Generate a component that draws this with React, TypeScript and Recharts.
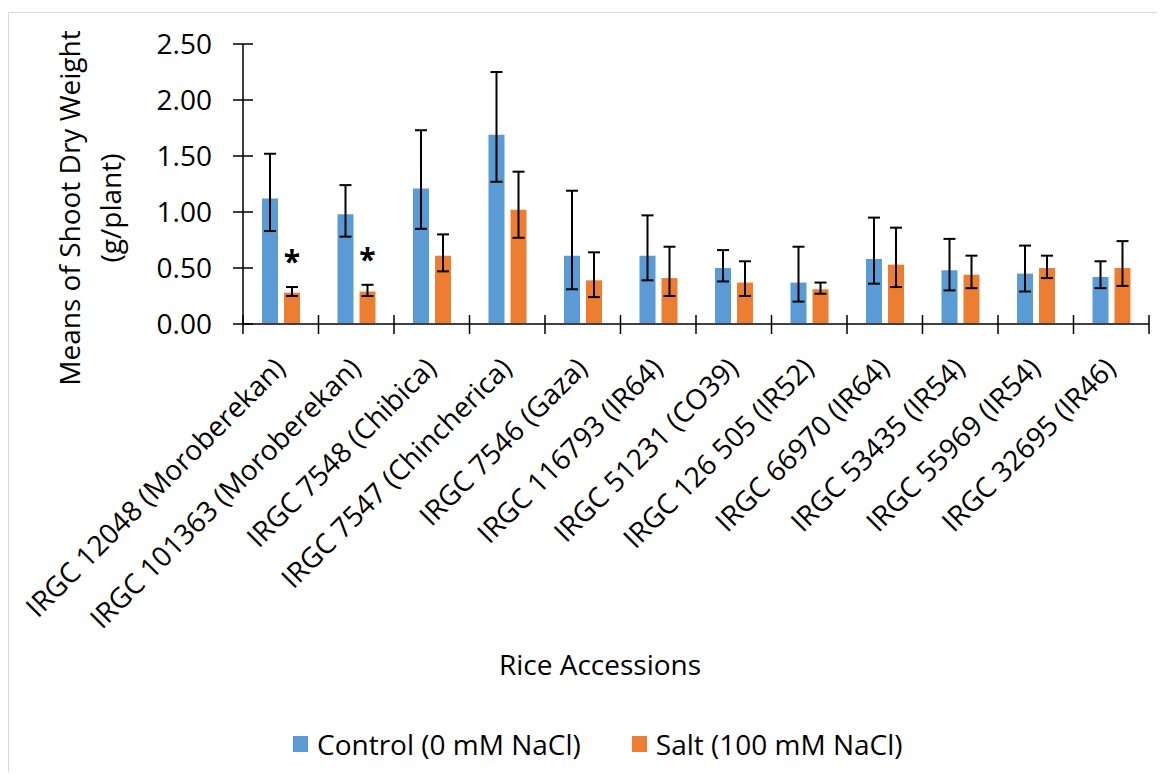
import React from 'react';
import { BarChart, Bar, XAxis, YAxis, ErrorBar, Legend, LabelList } from 'recharts';

const categories = [
  'IRGC 12048 (Moroberekan)',
  'IRGC 101363 (Moroberekan)',
  'IRGC 7548 (Chibica)',
  'IRGC 7547 (Chincherica)',
  'IRGC 7546 (Gaza)',
  'IRGC 116793 (IR64)',
  'IRGC 51231 (CO39)',
  'IRGC 126 505 (IR52)',
  'IRGC 66970 (IR64)',
  'IRGC 53435 (IR54)',
  'IRGC 55969 (IR54)',
  'IRGC 32695 (IR46)',
];

const controlValues = [1.12, 0.98, 1.21, 1.69, 0.61, 0.61, 0.5, 0.37, 0.58, 0.48, 0.45, 0.42];
const controlErrLow = [0.29, 0.2, 0.36, 0.42, 0.3, 0.22, 0.12, 0.17, 0.22, 0.18, 0.16, 0.1];
const controlErrHigh = [0.4, 0.26, 0.52, 0.56, 0.58, 0.36, 0.16, 0.32, 0.37, 0.28, 0.25, 0.14];

const saltValues = [0.28, 0.29, 0.61, 1.02, 0.39, 0.41, 0.37, 0.31, 0.53, 0.44, 0.5, 0.5];
const saltErrLow = [0.03, 0.04, 0.14, 0.25, 0.15, 0.16, 0.12, 0.04, 0.2, 0.12, 0.09, 0.16];
const saltErrHigh = [0.05, 0.06, 0.19, 0.34, 0.25, 0.28, 0.19, 0.06, 0.33, 0.17, 0.11, 0.24];

const significance = ['*', '*', '', '', '', '', '', '', '', '', '', ''];

const yTicks = [0, 0.5, 1, 1.5, 2, 2.5];
const seriesNames = ['Control (0 mM NaCl)', 'Salt (100 mM NaCl)'];
const seriesColors = ['#5B9BD5', '#ED7D31'];
const yTitleLines = ['Means of Shoot Dry Weight', '(g/plant)'];
const xTitle = 'Rice Accessions';

const data = categories.map((name, i) => ({
  name,
  control: controlValues[i],
  controlErr: [controlErrLow[i], controlErrHigh[i]],
  salt: saltValues[i],
  saltErr: [saltErrLow[i], saltErrHigh[i]],
  sig: significance[i],
}));

const FONT = "'Open Sans', sans-serif";
const CHART_W = 1149;
const CHART_H = 764;
const MARGIN = { top: 36, right: 8, left: 0, bottom: 0 };
const Y_AXIS_W = 235;
const PLOT_H = 280;
const X_AXIS_H = CHART_H - MARGIN.top - PLOT_H;
const BAND = (CHART_W - Y_AXIS_W - MARGIN.right) / categories.length;

const YTick = (props: any) => {
  const { x, y, payload } = props;
  return (
    <g>
      <line x1={x - 10} x2={x + 10} y1={y} y2={y} stroke="#000" strokeWidth={1.5} />
      <text x={x - 31} y={y} dy="0.36em" textAnchor="end" fontSize={28} fontFamily={FONT} fill="#000">
        {Number(payload.value).toFixed(2)}
      </text>
    </g>
  );
};

const XTick = (props: any) => {
  const { x, y, payload, index } = props;
  const half = BAND / 2;
  const tx = x + 6;
  const ty = y + 46;
  return (
    <g>
      <line x1={x - half} x2={x - half} y1={y - 9} y2={y + 10} stroke="#000" strokeWidth={1.5} />
      {index === categories.length - 1 && (
        <line x1={x + half} x2={x + half} y1={y - 9} y2={y + 10} stroke="#000" strokeWidth={1.5} />
      )}
      <text
        x={tx}
        y={ty}
        transform={`rotate(-45, ${tx}, ${ty})`}
        textAnchor="end"
        fontSize={28}
        fontFamily={FONT}
        fill="#000"
      >
        {payload.value}
      </text>
    </g>
  );
};

const YTitle = () => (
  <g>
    <text
      x={72}
      y={200}
      transform="rotate(-90, 72, 200)"
      textAnchor="middle"
      fontSize={28}
      fontFamily={FONT}
      fill="#000"
    >
      {yTitleLines[0]}
    </text>
    <text
      x={113}
      y={200}
      transform="rotate(-90, 113, 200)"
      textAnchor="middle"
      fontSize={28}
      fontFamily={FONT}
      fill="#000"
    >
      {yTitleLines[1]}
    </text>
  </g>
);

const XTitle = () => (
  <text x={592} y={667} textAnchor="middle" fontSize={28} fontFamily={FONT} fill="#000">
    {xTitle}
  </text>
);

const SigLabel = (props: any) => {
  const vb = props.viewBox && props.viewBox.x !== undefined ? props.viewBox : props;
  let idx = props.index;
  if (idx === undefined || idx === null) {
    idx = categories.indexOf(props.payload?.name);
  }
  if (idx === undefined || idx < 0) return null;
  const mark = significance[idx];
  if (!mark) return null;
  const { x, y, width, height } = vb;
  const v = saltValues[idx];
  const pxPerUnit = Math.abs(height) / v;
  const top = Math.min(y, y + height);
  const errTop = top - saltErrHigh[idx] * pxPerUnit;
  const cx = x + width / 2;
  return (
    <text
      x={cx}
      y={errTop - 15}
      textAnchor="middle"
      fontSize={30}
      fontWeight="bold"
      fontFamily={FONT}
      fill="#000"
    >
      {mark}
    </text>
  );
};

const LegendContent = () => (
  <div
    style={{
      display: 'flex',
      alignItems: 'center',
      fontFamily: FONT,
      fontSize: 28,
      color: '#000',
      lineHeight: '36px',
      whiteSpace: 'nowrap',
    }}
  >
    {seriesNames.map((n, i) => (
      <div key={n} style={{ display: 'flex', alignItems: 'center', marginRight: i === 0 ? 51 : 0 }}>
        <span style={{ display: 'inline-block', width: 15, height: 16, background: seriesColors[i], marginRight: 9 }} />
        <span>{n}</span>
      </div>
    ))}
  </div>
);

export default function App() {
  return (
    <div style={{ position: 'relative', width: CHART_W, height: CHART_H }}>
      <div
        style={{
          position: 'absolute',
          left: 0,
          top: 4,
          width: CHART_W,
          height: CHART_H - 4,
          borderTop: '1px solid #d9d9d9',
          borderLeft: '1px solid #d9d9d9',
          boxSizing: 'border-box',
        }}
      />
      <div style={{ position: 'absolute', left: 0, top: 0 }}>
        <BarChart
          width={CHART_W}
          height={CHART_H}
          data={data}
          margin={MARGIN}
          barSize={16}
          barGap={6}
        >
          <XAxis
            dataKey="name"
            type="category"
            height={X_AXIS_H}
            interval={0}
            tickSize={0}
            tickMargin={0}
            tickLine={false}
            axisLine={{ stroke: '#404040', strokeWidth: 2 }}
            tick={<XTick />}
            label={<XTitle />}
          />
          <YAxis
            type="number"
            domain={[0, 2.5]}
            ticks={yTicks}
            width={Y_AXIS_W}
            tickSize={0}
            tickMargin={0}
            tickLine={false}
            interval={0}
            axisLine={{ stroke: '#000', strokeWidth: 1.5 }}
            tick={<YTick />}
            label={<YTitle />}
          />
          <Legend
            verticalAlign="middle"
            align="center"
            layout="horizontal"
            wrapperStyle={{ top: 718, left: 285, width: 'auto' }}
            content={<LegendContent />}
          />
          <Bar dataKey="control" name={seriesNames[0]} fill={seriesColors[0]} isAnimationActive={false}>
            <ErrorBar dataKey="controlErr" width={6} stroke="#000" strokeWidth={2} direction="y" isAnimationActive={false} />
          </Bar>
          <Bar dataKey="salt" name={seriesNames[1]} fill={seriesColors[1]} isAnimationActive={false}>
            <ErrorBar dataKey="saltErr" width={6} stroke="#000" strokeWidth={2} direction="y" isAnimationActive={false} />
            <LabelList dataKey="sig" content={<SigLabel />} />
          </Bar>
        </BarChart>
      </div>
    </div>
  );
}
